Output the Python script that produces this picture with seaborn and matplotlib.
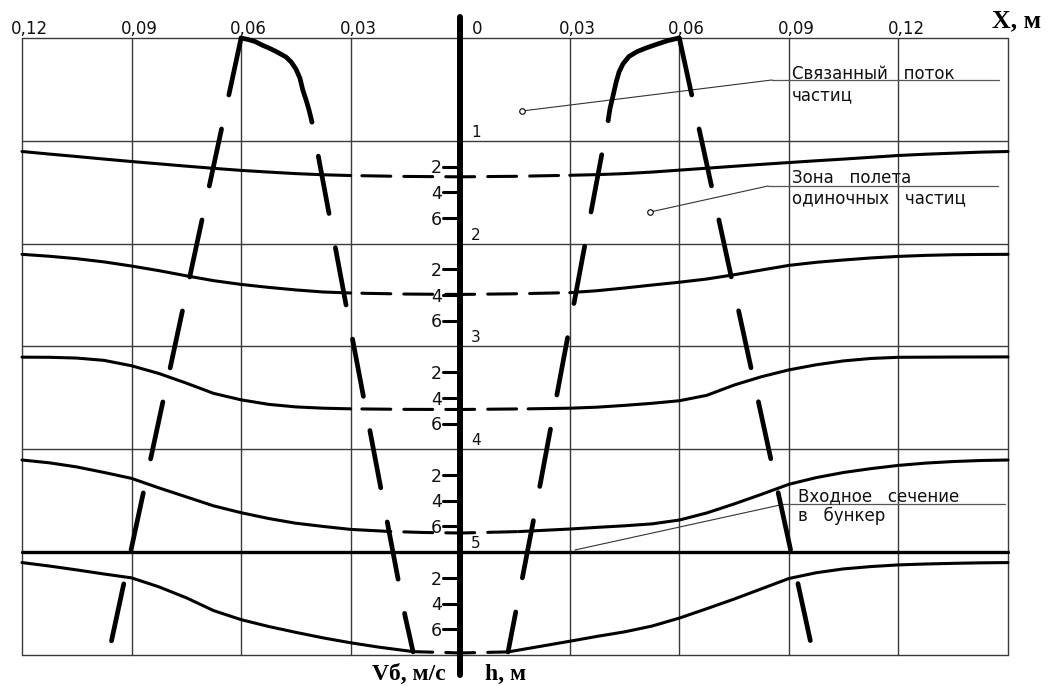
import numpy as np
import matplotlib
matplotlib.use("Agg")
import matplotlib.pyplot as plt
import seaborn as sns

# X, m -- left half of the drawing is stored as negative X, labels show |X|
x_grid = [-0.12, -0.09, -0.06, -0.03, 0.03, 0.06, 0.09, 0.12, 0.15]
x_tick_pos = [-0.12, -0.09, -0.06, -0.03, 0.0, 0.03, 0.06, 0.09, 0.12]
x_tick_labels = ["0,12", "0,09", "0,06", "0,03", "0", "0,03", "0,06", "0,09", "0,12"]

# sections h from the top, section 5 is the bunker entry
sections = [0, 1, 2, 3, 4, 5, 6]
section_labels = ["1", "2", "3", "4", "5"]
entry_section = 5
v_ticks = [2, 4, 6]
v_tick_labels = ["2", "4", "6"]
v_per_section = 8.0

# velocity profiles V (m/s) under sections 1..5
prof1_x = [-0.12, -0.1125, -0.105, -0.0975, -0.09, -0.0825, -0.075, -0.0675, -0.06, -0.0525,
           -0.045, -0.0375, -0.03, -0.015, 0.0, 0.015, 0.03, 0.0375, 0.045, 0.0525, 0.06,
           0.0675, 0.075, 0.0825, 0.09, 0.0975, 0.105, 0.1125, 0.12, 0.1275, 0.135, 0.1425, 0.15]
prof1_v = [0.83, 1.03, 1.22, 1.42, 1.61, 1.79, 1.97, 2.14, 2.30, 2.43,
           2.55, 2.64, 2.70, 2.77, 2.80, 2.76, 2.68, 2.63, 2.55, 2.43, 2.28,
           2.13, 1.98, 1.83, 1.69, 1.55, 1.42, 1.28, 1.14, 1.04, 0.96, 0.88, 0.83]

prof2_x = [-0.12, -0.1125, -0.105, -0.0975, -0.09, -0.0825, -0.075, -0.0675, -0.06, -0.0525,
           -0.045, -0.0375, -0.03, -0.015, 0.0, 0.015, 0.03, 0.0375, 0.045, 0.0525, 0.06,
           0.0675, 0.075, 0.0825, 0.09, 0.0975, 0.105, 0.1125, 0.12, 0.1275, 0.135, 0.1425, 0.15]
prof2_v = [0.83, 0.98, 1.17, 1.42, 1.74, 2.10, 2.50, 2.88, 3.17, 3.40,
           3.60, 3.76, 3.84, 3.92, 3.95, 3.90, 3.81, 3.66, 3.45, 3.22, 3.00,
           2.75, 2.42, 2.05, 1.69, 1.45, 1.27, 1.11, 0.99, 0.91, 0.86, 0.84, 0.83]

prof3_x = [-0.12, -0.1125, -0.105, -0.0975, -0.09, -0.0825, -0.075, -0.0675, -0.06, -0.0525,
           -0.045, -0.0375, -0.03, -0.015, 0.0, 0.0186, 0.03, 0.0375, 0.045, 0.0525, 0.06,
           0.0675, 0.075, 0.0825, 0.09, 0.0975, 0.105, 0.1125, 0.12, 0.135, 0.15]
prof3_v = [0.83, 0.84, 0.90, 1.08, 1.50, 2.10, 2.85, 3.65, 4.15, 4.50,
           4.70, 4.80, 4.85, 4.89, 4.90, 4.85, 4.80, 4.72, 4.58, 4.42, 4.22,
           3.80, 3.00, 2.35, 1.82, 1.42, 1.12, 0.93, 0.84, 0.82, 0.81]

prof4_x = [-0.12, -0.1125, -0.105, -0.0975, -0.09, -0.0825, -0.075, -0.0675, -0.06, -0.0525,
           -0.045, -0.0375, -0.03, -0.02, -0.01, 0.0, 0.016, 0.03, 0.0375, 0.045, 0.0525, 0.06,
           0.0675, 0.075, 0.0825, 0.09, 0.0975, 0.105, 0.1125, 0.12, 0.1275, 0.135, 0.1425, 0.15]
prof4_v = [0.83, 1.05, 1.37, 1.80, 2.26, 3.00, 3.70, 4.40, 4.93, 5.38,
           5.75, 6.00, 6.23, 6.38, 6.47, 6.51, 6.40, 6.20, 6.07, 5.95, 5.80, 5.50,
           4.95, 4.25, 3.50, 2.72, 2.20, 1.80, 1.50, 1.25, 1.07, 0.95, 0.87, 0.83]

prof5_x = [-0.12, -0.1125, -0.105, -0.0975, -0.09, -0.0825, -0.075, -0.0675, -0.06, -0.0525,
           -0.045, -0.0375, -0.03, -0.0225, -0.0128, 0.0, 0.0131, 0.0225, 0.03, 0.0375, 0.045,
           0.0525, 0.06, 0.0675, 0.075, 0.0825, 0.09, 0.0975, 0.105, 0.1125, 0.12, 0.1275,
           0.135, 0.1425, 0.15]
prof5_v = [0.81, 1.08, 1.38, 1.70, 2.00, 2.70, 3.55, 4.55, 5.25, 5.78,
           6.24, 6.67, 7.05, 7.38, 7.74, 7.84, 7.76, 7.30, 6.93, 6.55, 6.20,
           5.75, 5.13, 4.40, 3.65, 2.85, 2.05, 1.60, 1.30, 1.12, 0.99, 0.92,
           0.87, 0.83, 0.81]

profiles = [(prof1_x, prof1_v), (prof2_x, prof2_v), (prof3_x, prof3_v),
            (prof4_x, prof4_v), (prof5_x, prof5_v)]
# part of each profile drawn dashed (inside the bound particle stream)
dash_lo = [-0.03, -0.03, -0.03, -0.02, -0.0128]
dash_hi = [0.03, 0.03, 0.0186, 0.016, 0.0131]

# boundaries of the particle stream (x in m, h in sections)
outer_left_x = [-0.0600, -0.0962]
outer_left_h = [0.0, 5.98]
outer_right_x = [0.0600, 0.0966]
outer_right_h = [0.0, 5.98]
cap_left_x = [-0.0600, -0.0581, -0.0562, -0.0543, -0.0521, -0.0499, -0.0477, -0.0463,
              -0.0450, -0.0439, -0.0431, -0.0422, -0.0414, -0.0406]
cap_left_h = [0.0, 0.015, 0.034, 0.068, 0.102, 0.141, 0.185, 0.233,
              0.301, 0.389, 0.506, 0.603, 0.700, 0.817]
inner_left_x = [-0.0406, -0.0310, -0.0151, -0.0129]
inner_left_h = [0.817, 2.645, 5.62, 5.97]
cap_right_x = [0.0599, 0.0569, 0.0539, 0.0509, 0.0484, 0.0462, 0.0446, 0.0435,
               0.0427, 0.0418, 0.0410, 0.0405]
cap_right_h = [0.0, 0.025, 0.060, 0.097, 0.133, 0.180, 0.250, 0.330,
               0.430, 0.568, 0.690, 0.803]
inner_right_x = [0.0405, 0.0199, 0.0131]
inner_right_h = [0.803, 4.72, 5.97]

sns.set_style("white")
plt.rcParams["lines.scale_dashes"] = False
plt.rcParams["font.family"] = ["DejaVu Sans"]

fig = plt.figure(figsize=(10.63, 6.86), dpi=100)
ax = fig.add_axes([0, 0, 1, 1])

GRID = "#3a3a3a"
TXT = "#111111"

# grid
for gx in x_grid:
    ax.plot([gx, gx], [sections[0], sections[-1]], color=GRID, lw=1.0, zorder=1)
for s in sections:
    if s == entry_section:
        continue
    ax.plot([x_grid[0], x_grid[-1]], [s, s], color=GRID, lw=1.0, zorder=1)
ax.plot([x_grid[0], x_grid[-1]], [entry_section, entry_section], color="k", lw=2.4,
        solid_capstyle="round", zorder=3)


def line(xs, ys, **kw):
    sns.lineplot(x=np.asarray(xs), y=np.asarray(ys), ax=ax, sort=False, estimator=None,
                 color="k", **kw)


# velocity profiles
P_LW = 2.2
P_ON, P_OFF = 20.8, 9.4
for k, (px_, pv_) in enumerate(profiles, start=1):
    xs = np.array(px_)
    ys = k + np.array(pv_) / v_per_section
    lo, hi = dash_lo[k - 1], dash_hi[k - 1]
    eps = 1e-9
    left = xs <= lo + eps
    right = xs >= hi - eps
    mid_l = (xs >= lo - eps) & (xs <= eps)
    mid_r = (xs >= -eps) & (xs <= hi + eps)
    line(xs[left], ys[left], lw=P_LW, solid_capstyle="round", solid_joinstyle="round", zorder=4)
    line(xs[right], ys[right], lw=P_LW, solid_capstyle="round", solid_joinstyle="round", zorder=4)
    dash = (P_ON / 2, (P_ON, P_OFF))
    line(xs[mid_l][::-1], ys[mid_l][::-1], lw=P_LW, linestyle=dash, dash_capstyle="round", zorder=4)
    line(xs[mid_r], ys[mid_r], lw=P_LW, linestyle=dash, dash_capstyle="round", zorder=4)

# stream boundaries
B_LW = 3.4
B_ON, B_OFF = 42.0, 25.0
for bx, bh in [(outer_left_x, outer_left_h), (outer_right_x, outer_right_h)]:
    line(bx, bh, lw=B_LW, linestyle=(0, (B_ON, B_OFF)), dash_capstyle="round", zorder=5)
for bx, bh in [(cap_left_x, cap_left_h), (cap_right_x, cap_right_h)]:
    line(bx, bh, lw=B_LW, solid_capstyle="round", solid_joinstyle="round", zorder=5)
for bx, bh in [(inner_left_x, inner_left_h), (inner_right_x, inner_right_h)]:
    line(bx, bh, lw=B_LW, linestyle=(B_ON, (B_ON, B_OFF)), dash_capstyle="round", zorder=5)

# central axis with V scale
ax.plot([0, 0], [-0.204, 6.195], color="k", lw=4.3, solid_capstyle="round", zorder=6)
for k in range(1, 6):
    for v, lab in zip(v_ticks, v_tick_labels):
        y = k + v / v_per_section
        ax.plot([-0.0047, 0], [y, y], color="k", lw=2.2, solid_capstyle="round", zorder=6)
        ax.text(-0.0051, y + 0.065, lab, ha="right", va="baseline", fontsize=12.5, color=TXT)
    ax.text(0.003, k - 0.04, section_labels[k - 1], ha="left", va="baseline",
            fontsize=11, color=TXT)

# X labels along the top
for gx, lab in zip(x_tick_pos, x_tick_labels):
    xpos = 0.0032 if gx == 0 else gx - 0.003
    ax.text(xpos, -0.035, lab, ha="left", va="baseline", fontsize=12, color=TXT)

bold = dict(family="Liberation Serif", fontweight="bold", color="k")
ax.text(0.1456, -0.101, "X, м", ha="left", va="baseline", fontsize=18.5, **bold)
ax.text(-0.0039, 6.24, "Vб, м/с", ha="right", va="baseline", fontsize=17, **bold)
ax.text(0.0068, 6.24, "h, м", ha="left", va="baseline", fontsize=17, **bold)

# callouts
notes = [
    ("Связанный   поток", "частиц", 0.0908, 0.395, 0.603, (0.0854, 0.1475, 0.408), (0.0169, 0.71), True),
    ("Зона   полета", "одиночных   частиц", 0.0908, 1.413, 1.608, (0.0843, 0.1473, 1.439), (0.052, 1.692), True),
    ("Входное   сечение", "в   бункер", 0.0926, 4.509, 4.694, (0.0884, 0.1492, 4.535), (0.0314, 4.979), False),
]
for t1, t2, tx, y1, y2, (u0, u1, uy), (ex, ey), circ in notes:
    ax.text(tx, y1, t1, ha="left", va="baseline", fontsize=12, color=TXT)
    ax.text(tx, y2, t2, ha="left", va="baseline", fontsize=12, color=TXT)
    ax.plot([u0, u1], [uy, uy], color="#555555", lw=0.9, zorder=2)
    ax.plot([u0, ex], [uy, ey], color="#333333", lw=0.8, zorder=2)
    if circ:
        ax.plot([ex], [ey], marker="o", ms=4, mfc="white", mec="k", mew=0.8, zorder=7)

ax.set_xlim(-0.12602, 0.16506)
ax.set_ylim(6.3015, -0.3695)
ax.axis("off")

fig.savefig("out.png", dpi=100)
